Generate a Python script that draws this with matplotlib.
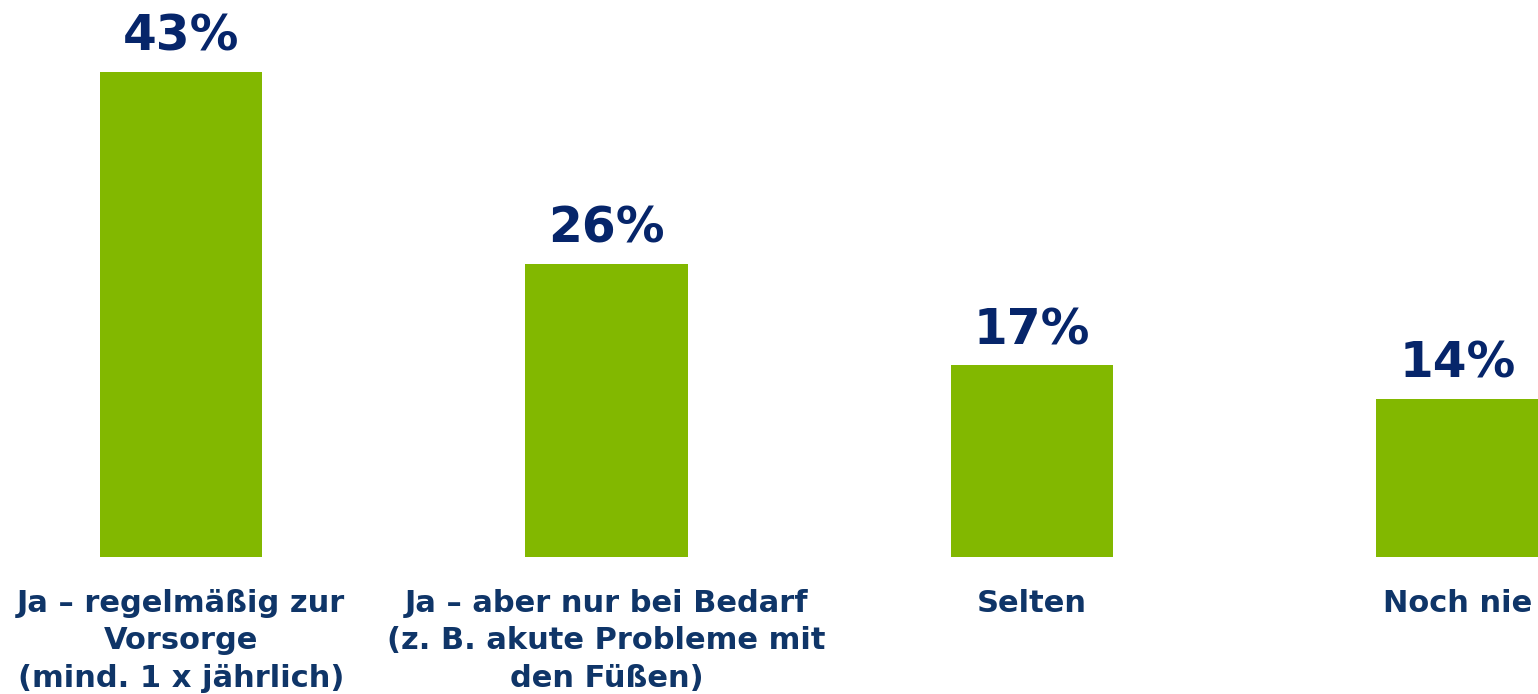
import matplotlib.pyplot as plt

categories = [
    'Ja \u2013 regelmäßig zur\nVorsorge\n(mind. 1 x jährlich)',
    'Ja \u2013 aber nur bei Bedarf\n(z. B. akute Probleme mit\nden Füßen)',
    'Selten',
    'Noch nie',
]
values = [43, 26, 17, 14]
value_labels = ['43%', '26%', '17%', '14%']

bar_color = '#82b800'
value_color = '#06256a'
label_color = '#0f3568'

fig = plt.figure(figsize=(15.38, 6.94), dpi=100)
ax = fig.add_axes([0, 137 / 694, 1, 557 / 694])

x = list(range(len(values)))
bars = ax.bar(x, values, width=0.381, color=bar_color)

for b, lab in zip(bars, value_labels):
    ax.annotate(lab, (b.get_x() + b.get_width() / 2, b.get_height()),
                xytext=(0, 8), textcoords='offset points',
                ha='center', va='bottom', fontsize=35, fontweight='bold',
                color=value_color, family='DejaVu Sans')

ax.set_xlim(-181 / 425.5, (1538 - 181) / 425.5)
ax.set_ylim(0, 557 / 11.28)
ax.set_xticks(x)
ax.set_xticklabels(categories, fontsize=22, fontweight='bold', color=label_color,
                   linespacing=1.36)
ax.tick_params(axis='x', length=0, pad=23)
ax.set_yticks([])
for s in ax.spines.values():
    s.set_visible(False)

fig.savefig('out.png', dpi=100)
